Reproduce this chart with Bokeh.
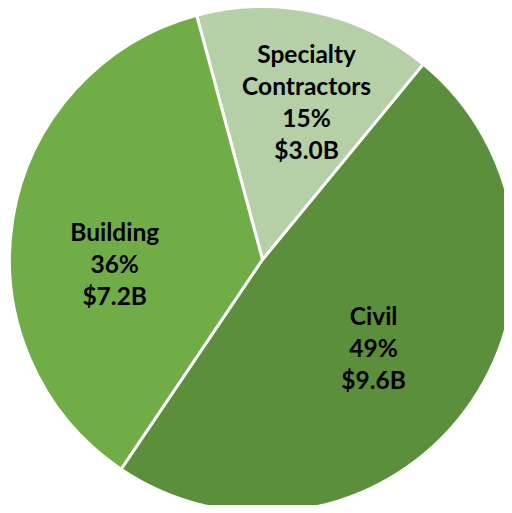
import math
from bokeh.plotting import figure
from bokeh.models import Range1d, ColumnDataSource
from bokeh.core.properties import value
from bokeh.embed import file_html
from bokeh.resources import INLINE

# ---- data ----
categories = ["Civil", "Specialty\nContractors", "Building"]
values_b = [9.6, 3.0, 7.2]          # $ billions
pct_labels = ["49%", "15%", "36%"]
colors = ["#5B8F3B", "#B5CFA6", "#70AD47"]

# ---- layout ----
W, H = 504, 505
cx, cy, R = 262, 246, 253
start_deg = -124.0
# label anchor (angle in degrees, radius) chosen to match reference placement
label_polar = [(-39.5, 144), (74.0, 160), (183.0, 148)]
line_gap = 32
text_dy = 4

total = sum(values_b)
starts, ends = [], []
a = math.radians(start_deg)
for v in values_b:
    starts.append(a)
    a += v / total * 2 * math.pi
    ends.append(a)

p = figure(width=W, height=H, output_backend="svg", toolbar_location=None,
           title=None, x_range=Range1d(0, W), y_range=Range1d(0, H),
           min_border=0, x_axis_location=None, y_axis_location=None)
p.grid.visible = False
p.outline_line_color = None
p.background_fill_color = "white"
p.border_fill_color = "white"

src = ColumnDataSource(dict(start=starts, end=ends, color=colors))
p.wedge(x=cx, y=cy, radius=R, start_angle="start", end_angle="end",
        fill_color="color", line_color="white", line_width=3, source=src)

tx, ty, tt = [], [], []
for cat, v, pc, (ang, r) in zip(categories, values_b, pct_labels, label_polar):
    lines = cat.split("\n") + [pc, f"${v:.1f}B"]
    lx = cx + r * math.cos(math.radians(ang))
    ly = cy + r * math.sin(math.radians(ang)) + text_dy
    n = len(lines)
    for i, ln in enumerate(lines):
        tx.append(lx)
        ty.append(ly + ((n - 1) / 2 - i) * line_gap)
        tt.append(ln)

p.text(x=tx, y=ty, text=tt, text_align="center", text_baseline="middle",
       text_font=value("Lato"), text_font_style="bold", text_font_size="24.5px",
       text_color="black")

open("out.html", "w").write(file_html(p, INLINE))
